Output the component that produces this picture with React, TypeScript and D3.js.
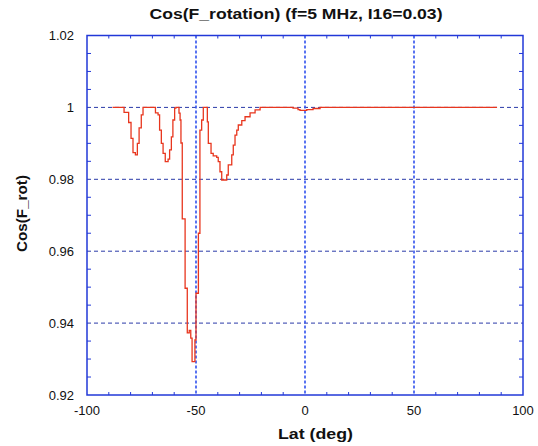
import React from "react";
import * as d3 from "d3";

const lat = [
  -88.3, -83.0, -80.9, -79.8, -78.9, -77.8, -76.9, -76.1, -75.1, -74.3,
  -68.6, -67.4, -66.7, -65.9, -65.1, -64.1, -62.8, -62.1, -61.3, -60.6, -59.8, -59.2,
  -57.8, -57.3, -56.9, -56.3, -55.0, -54.0, -53.1, -52.4, -51.8,
  -50.5, -50.0, -48.9, -48.2, -47.4, -46.65,
  -44.8, -44.35, -43.1, -42.1, -40.5, -39.8, -39.0, -38.2, -36.7,
  -35.9, -35.2, -33.6, -32.9, -32.1, -31.3, -30.6, -29.0, -27.5, -25.2, -22.9, -20.6,
  -5.5, -3.2, -2.3, 0.8, 3.7, 6.9, 88.1,
];
const cosRot = [
  1.0, 0.9986, 0.9958, 0.9914, 0.9874, 0.9868, 0.99, 0.9943, 0.9979, 1.0,
  0.9985, 0.9979, 0.9937, 0.99, 0.9872, 0.9849, 0.9856, 0.9882, 0.9918, 0.9965, 0.9998, 1.0,
  0.9984, 0.9965, 0.9901, 0.969, 0.9497, 0.9373, 0.938, 0.9358, 0.9293,
  0.9353, 0.9483, 0.965, 0.9937, 0.9965, 1.0,
  0.996, 0.99, 0.9872, 0.9865, 0.9861, 0.9849, 0.9821, 0.9798, 0.9798,
  0.9812, 0.984, 0.9868, 0.9895, 0.9923, 0.9937, 0.9951, 0.9963, 0.9974, 0.9985, 0.9993, 1.0,
  0.9998, 0.9994, 0.9992, 0.9994, 0.9997, 1.0, 1.0,
];

const xTicks = [-100, -50, 0, 50, 100];
const yTicks = [0.92, 0.94, 0.96, 0.98, 1.0, 1.02];
const xGrid = [-50, 0, 50];
const yGrid = [0.94, 0.96, 0.98, 1.0];

const W = 538, H = 446;
const L = 87, R = 523, T = 35.5, B = 395;
const font = "'Liberation Sans', Arial, Helvetica, sans-serif";

export default function App() {
  const x = d3.scaleLinear().domain([-100, 100]).range([L, R]);
  const y = d3.scaleLinear().domain([0.92, 1.02]).range([B, T]);
  const pts: [number, number][] = lat.map((v, i) => [v, cosRot[i]]);
  const line = d3
    .line<[number, number]>()
    .x((d) => x(d[0]))
    .y((d) => y(d[1]))
    .curve(d3.curveStepAfter);
  const xMinor = d3.range(-90, 100, 10).filter((v) => v % 50 !== 0);
  const yMinor = d3.range(0, 21).map((i) => 0.92 + i * 0.005).filter((_, i) => i % 4 !== 0);
  const axisColor = "#2238d8";
  return (
    <svg width={W} height={H} style={{ position: "absolute", left: 0, top: 0, background: "#fff" }}>
      <text x={296} y={18.5} textAnchor="middle" fontFamily={font} fontWeight="bold" fontSize={14} fill="#111"
        textLength={293} lengthAdjust="spacingAndGlyphs">
        Cos(F_rotation) (f=5 MHz, I16=0.03)
      </text>
      {yGrid.map((v) => (
        <line key={"hg" + v} x1={L} x2={R} y1={y(v)} y2={y(v)} stroke="#2a3aa8" strokeWidth={1} strokeDasharray="4,3" />
      ))}
      {xGrid.map((v) => (
        <line key={"vg" + v} x1={x(v)} x2={x(v)} y1={T} y2={B} stroke="#3050ee" strokeWidth={1.6} strokeDasharray="3,2" />
      ))}
      {xMinor.map((v) => (
        <g key={"xm" + v}>
          <line x1={x(v)} x2={x(v)} y1={B} y2={B - 3} stroke={axisColor} strokeWidth={1} />
          <line x1={x(v)} x2={x(v)} y1={T} y2={T + 3} stroke={axisColor} strokeWidth={1} />
        </g>
      ))}
      {yMinor.map((v) => (
        <g key={"ym" + v}>
          <line x1={L} x2={L + 4} y1={y(v)} y2={y(v)} stroke={axisColor} strokeWidth={1} />
          <line x1={R} x2={R - 4} y1={y(v)} y2={y(v)} stroke={axisColor} strokeWidth={1} />
        </g>
      ))}
      <rect x={L} y={T} width={R - L} height={B - T} fill="none" stroke={axisColor} strokeWidth={1.5} />
      <path d={line(pts) || ""} fill="none" stroke="#e8361e" strokeWidth={1.3} />
      {xTicks.map((v) => (
        <text key={"xt" + v} x={x(v)} y={415} textAnchor="middle" fontFamily={font} fontSize={13} fill="#111">
          {v}
        </text>
      ))}
      {yTicks.map((v) => (
        <text key={"yt" + v} x={74} y={y(v) + 4.5} textAnchor="end" fontFamily={font} fontSize={13} fill="#111">
          {v === 1 ? "1" : d3.format(".2f")(v)}
        </text>
      ))}
      <text x={315.5} y={439} textAnchor="middle" fontFamily={font} fontWeight="bold" fontSize={14} fill="#111"
        textLength={75} lengthAdjust="spacingAndGlyphs">
        Lat (deg)
      </text>
      <text transform={`translate(26.5,213.5) rotate(-90)`} textAnchor="middle" fontFamily={font} fontWeight="bold" fontSize={14} fill="#111"
        textLength={77} lengthAdjust="spacingAndGlyphs">
        Cos(F_rot)
      </text>
    </svg>
  );
}
